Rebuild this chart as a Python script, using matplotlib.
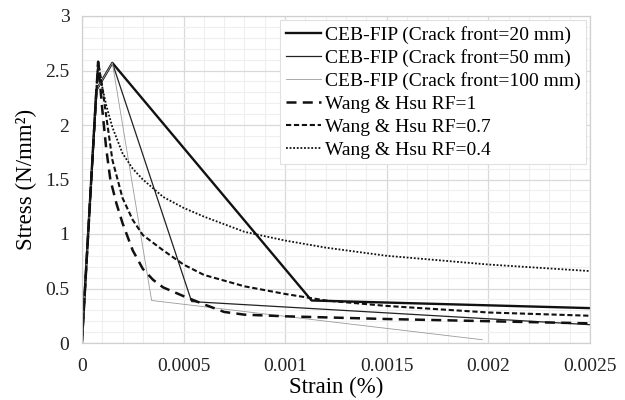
import matplotlib
matplotlib.use("Agg")
import matplotlib.pyplot as plt
from matplotlib.ticker import MultipleLocator, FixedLocator

plt.rcParams['font.family'] = ['Liberation Serif', 'DejaVu Serif']

# CEB-FIP curves
ceb20_x = [0, 0.000071, 0.00015, 0.00113, 0.0025]
ceb20_y = [0, 2.32, 2.57, 0.39, 0.32]
ceb50_x = [0, 0.000071, 0.00015, 0.00054, 0.0025]
ceb50_y = [0, 2.32, 2.57, 0.38, 0.168]
ceb100_x = [0, 0.000071, 0.00015, 0.000343, 0.00197]
ceb100_y = [0, 2.32, 2.57, 0.39, 0.03]

# Wang & Hsu curves
wh1_x = [0, 0.00008, 0.0001, 0.00012, 0.00014, 0.00017, 0.0002, 0.00025, 0.0003,
         0.00035, 0.0004, 0.0005, 0.0006, 0.0007, 0.0008, 0.001, 0.0012, 0.0015,
         0.002, 0.0025]
wh1_y = [0, 2.58, 2.15, 1.78, 1.5, 1.28, 1.1, 0.85, 0.68,
         0.58, 0.51, 0.43, 0.355, 0.285, 0.26, 0.245, 0.235, 0.22,
         0.2, 0.18]
wh07_x = [0, 0.00008, 0.0001, 0.00012, 0.00015, 0.0002, 0.00025, 0.0003, 0.0004,
          0.0005, 0.0006, 0.0008, 0.001, 0.0012, 0.0015, 0.002, 0.0025]
wh07_y = [0, 2.58, 2.35, 2.08, 1.68, 1.33, 1.13, 0.99, 0.85,
          0.72, 0.625, 0.52, 0.45, 0.39, 0.34, 0.28, 0.25]
wh04_x = [0, 0.00008, 0.0001, 0.00012, 0.00015, 0.0002, 0.00025, 0.0003, 0.0004,
          0.0005, 0.0006, 0.0008, 0.001, 0.0012, 0.0015, 0.002, 0.0025]
wh04_y = [0, 2.58, 2.35, 2.18, 1.98, 1.74, 1.6, 1.5, 1.34,
          1.24, 1.16, 1.02, 0.94, 0.875, 0.8, 0.72, 0.66]

labels = ["CEB-FIP (Crack front=20 mm)", "CEB-FIP (Crack front=50 mm)",
          "CEB-FIP (Crack front=100 mm)", "Wang & Hsu RF=1",
          "Wang & Hsu RF=0.7", "Wang & Hsu RF=0.4"]
xticks = [0, 0.0005, 0.001, 0.0015, 0.002, 0.0025]
xticklabels = ["0", "0.0005", "0.001", "0.0015", "0.002", "0.0025"]
yticks = [0, 0.5, 1, 1.5, 2, 2.5, 3]
yticklabels = ["0", "0.5", "1", "1.5", "2", "2.5", "3"]

fig = plt.figure(figsize=(6.25, 4.0), dpi=100)
ax = fig.add_axes([0.131, 0.1425, 0.813, 0.8175])

ax.plot(ceb20_x, ceb20_y, color='#111111', lw=1.7, label=labels[0])
ax.plot(ceb50_x, ceb50_y, color='#222222', lw=0.9, label=labels[1])
ax.plot(ceb100_x, ceb100_y, color='#9a9a9a', lw=0.6, label=labels[2])
ax.plot(wh1_x, wh1_y, color='#111111', lw=1.8, linestyle=(0, (4, 2.5)), label=labels[3])
ax.plot(wh07_x, wh07_y, color='#111111', lw=1.5, linestyle=(0, (2.5, 1.3)), label=labels[4])
ax.plot(wh04_x, wh04_y, color='#111111', lw=1.3, linestyle=(0, (1, 1)), label=labels[5])

ax.set_xlim(0, 0.0025)
ax.set_ylim(0, 3)
ax.xaxis.set_major_locator(FixedLocator(xticks))
ax.set_xticklabels(xticklabels)
ax.yaxis.set_major_locator(FixedLocator(yticks))
ax.set_yticklabels(yticklabels)
ax.xaxis.set_minor_locator(MultipleLocator(0.0001))
ax.yaxis.set_minor_locator(MultipleLocator(0.1))
ax.grid(which='major', color='#d9d9d9', lw=0.9)
ax.grid(which='minor', color='#efefef', lw=0.8)
ax.set_axisbelow(True)
ax.tick_params(which='both', length=0, labelsize=14, colors='#222222')
ax.tick_params(axis='x', pad=11)
ax.tick_params(axis='y', pad=9)
for s in ax.spines.values():
    s.set_color('#d0d0d0')
    s.set_linewidth(0.9)

ax.set_xlabel("Strain (%)", fontsize=16.5, labelpad=1)
ax.set_ylabel("Stress (N/mm²)", fontsize=16.5, labelpad=6)

leg = ax.legend(loc='upper right', fontsize=14, handlelength=1.8, handletextpad=0.2,
                labelspacing=0.27, borderpad=0.3, borderaxespad=0.2, frameon=True,
                fancybox=False, edgecolor='#e0e0e0', framealpha=1)
leg.get_frame().set_linewidth(0.8)

fig.savefig("out.png", dpi=100)
